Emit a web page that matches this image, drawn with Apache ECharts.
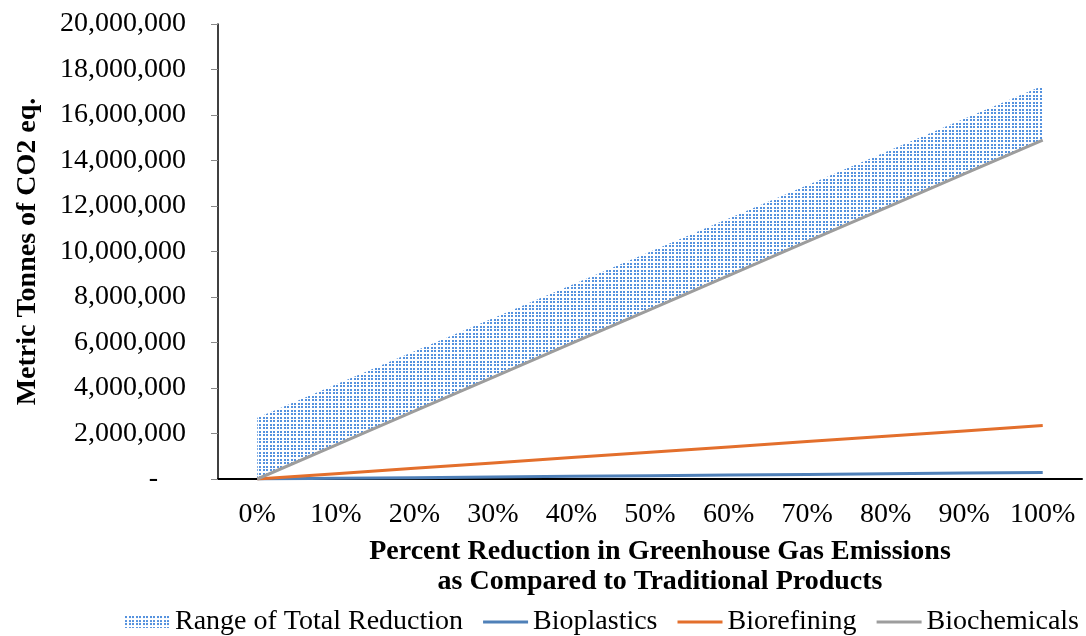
<!DOCTYPE html>
<html>
<head>
<meta charset="utf-8">
<script src="https://cdn.jsdelivr.net/npm/echarts@6/dist/echarts.min.js"></script>
<style>
  html, body { margin: 0; padding: 0; background: #fff; }
  #chart { width: 1086px; height: 636px; }
</style>
</head>
<body>
<div id="chart"></div>
<script>
  // values
  const categories = ['0%', '10%', '20%', '30%', '40%', '50%', '60%', '70%', '80%', '90%', '100%']
  const bioplastics = [0, 29000, 58000, 87000, 116000, 145000, 174000, 203000, 232000, 261000, 290000]
  const biorefining = [0, 235000, 470000, 705000, 940000, 1175000, 1410000, 1645000, 1880000, 2115000, 2350000]
  const biochemicals = [0, 1490000, 2980000, 4470000, 5960000, 7450000, 8940000, 10430000, 11920000, 13410000, 14900000]
  const rangeTop = [2690000, 4150000, 5610000, 7070000, 8530000, 9990000, 11450000, 12910000, 14370000, 15830000, 17290000]

  // band height on top of the biochemicals line
  const rangeBand = rangeTop.map((v, i) => v - biochemicals[i])

  // dotted fill pattern (dots ~3.5px apart)
  let pat = document.createElement('canvas')
  pat.width = 7
  pat.height = 7
  let ctx = pat.getContext('2d')
  ctx.fillStyle = '#5592de'
  ;[[0, 0], [4, 0], [0, 4], [4, 4]].forEach(p => ctx.fillRect(p[0], p[1], 2, 2))
  let dotted = { image: pat, repeat: 'repeat' }

  let lineIcon = 'path://M0,0L45,0L45,3L0,3Z'
  let font = 'Liberation Serif'
  let myChart = echarts.init(document.getElementById('chart'))
  let option = {
    animation: false,
    textStyle: { fontFamily: font, color: '#000' },
    grid: { left: 218, right: 4, top: 24, bottom: 157 },
    legend: {
      bottom: -5,
      right: 2,
      itemWidth: 45,
      itemHeight: 12,
      itemGap: 20,
      symbolKeepAspect: true,
      textStyle: { fontFamily: font, fontSize: 28, color: '#000' },
      data: [
        { name: 'Range of Total Reduction', icon: 'rect', itemStyle: { color: dotted } },
        { name: 'Bioplastics', icon: lineIcon },
        { name: 'Biorefining', icon: lineIcon },
        { name: 'Biochemicals', icon: lineIcon }
      ]
    },
    xAxis: {
      type: 'category',
      data: categories,
      boundaryGap: true,
      axisLine: { lineStyle: { color: '#000', width: 2 } },
      axisTick: { show: false },
      axisLabel: { fontFamily: font, fontSize: 28, color: '#000', margin: 22, interval: 0 },
      name: 'Percent Reduction in Greenhouse Gas Emissions\nas Compared to Traditional Products',
      nameLocation: 'middle',
      nameGap: 58,
      nameTextStyle: { fontFamily: font, fontSize: 28, fontWeight: 'bold', color: '#000', lineHeight: 30, padding: [0, 0, 0, 20] }
    },
    yAxis: {
      type: 'value',
      min: 0,
      max: 20000000,
      interval: 2000000,
      splitLine: { show: false },
      axisLine: { show: true, lineStyle: { color: '#000', width: 1.5 } },
      axisTick: { show: true, length: 7, lineStyle: { color: '#888' } },
      axisLabel: {
        fontFamily: font, fontSize: 28, color: '#000', margin: 32,
        formatter: function(v) {
          return v === 0 ? '{dash|-}' : v.toLocaleString('en-US')
        },
        rich: { dash: { fontFamily: font, fontSize: 28, color: '#000', padding: [0, 28, 0, 0] } }
      },
      name: 'Metric Tonnes of CO2 eq.',
      nameLocation: 'middle',
      nameGap: 176,
      nameTextStyle: { fontFamily: font, fontSize: 28, fontWeight: 'bold', color: '#000' }
    },
    series: [{
      name: 'base',
      type: 'line',
      stack: 'range',
      data: biochemicals,
      symbol: 'none',
      lineStyle: { opacity: 0 },
      silent: true
    }, {
      name: 'Range of Total Reduction',
      type: 'line',
      stack: 'range',
      data: rangeBand,
      symbol: 'none',
      lineStyle: { opacity: 0 },
      itemStyle: { color: dotted },
      areaStyle: { color: dotted, opacity: 1 }
    }, {
      name: 'Bioplastics',
      type: 'line',
      data: bioplastics,
      symbol: 'none',
      z: 5,
      itemStyle: { color: '#4f80b8' },
      lineStyle: { color: '#4f80b8', width: 3 }
    }, {
      name: 'Biorefining',
      type: 'line',
      data: biorefining,
      symbol: 'none',
      z: 5,
      itemStyle: { color: '#e36f2c' },
      lineStyle: { color: '#e36f2c', width: 3 }
    }, {
      name: 'Biochemicals',
      type: 'line',
      data: biochemicals,
      symbol: 'none',
      z: 5,
      itemStyle: { color: '#9d9d9d' },
      lineStyle: { color: '#9d9d9d', width: 3 }
    }]
  }
  myChart.setOption(option)
</script>
</body>
</html>
